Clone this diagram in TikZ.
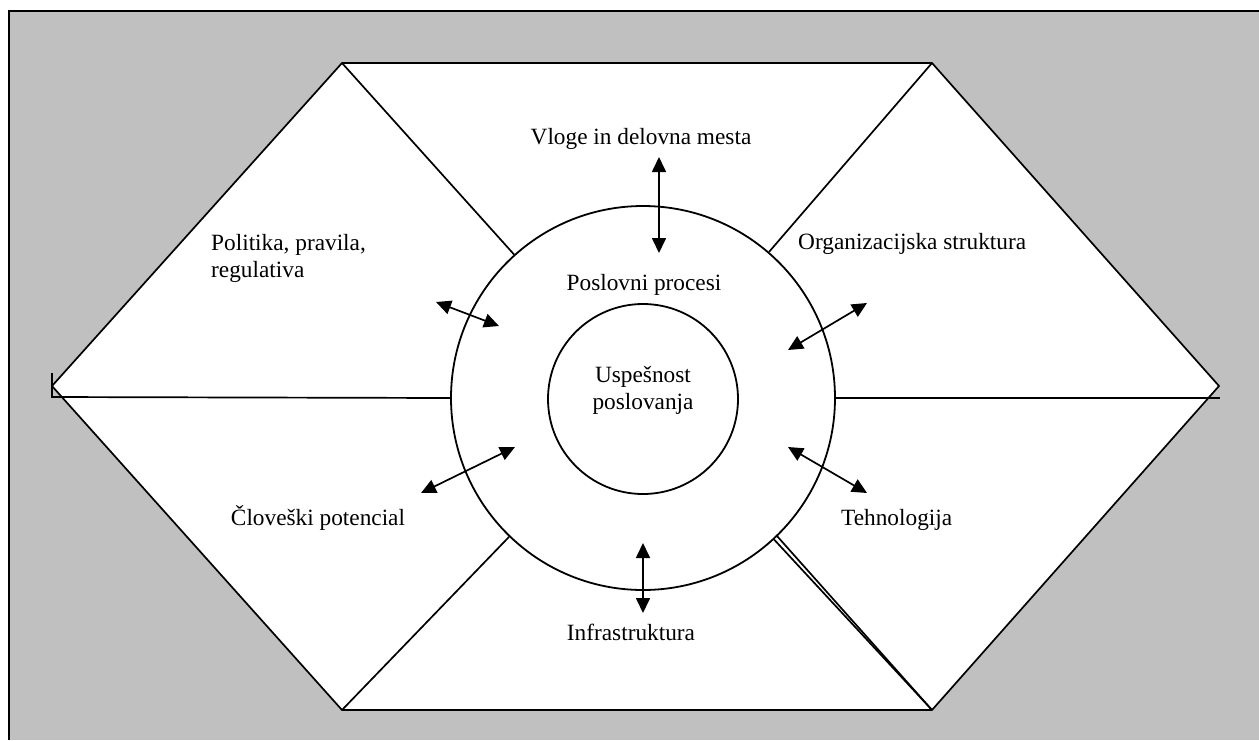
\documentclass[tikz,border=0pt]{standalone}
\usepackage{fontspec}
\setmainfont{Liberation Serif}
\usetikzlibrary{arrows.meta}
\definecolor{bggray}{RGB}{192,192,192}
\begin{document}
\begin{tikzpicture}[x=1pt,y=-1pt,
  edge/.style={line width=1.7pt, line join=miter},
  dbl/.style={{Triangle[length=15pt,width=14pt]}-{Triangle[length=15pt,width=14pt]}, line width=1.7pt},
  lbl/.style={font=\fontsize{23.3}{27}\selectfont, inner sep=0pt},
  ring/.style={circle, draw, line width=1.8pt, inner sep=0pt, fill=white}]
\useasboundingbox (0,0) rectangle (1259,740);
% background
\fill[white] (0,0) rectangle (1259,740);
\fill[bggray] (9,11) rectangle (1259,740);
\draw[line width=2pt] (9,740) -- (9,11) -- (1259,11);
% hexagon
\coordinate (tl) at (342,63);
\coordinate (tr) at (932,63);
\coordinate (rv) at (1219,386);
\coordinate (br) at (932,710);
\coordinate (bl) at (342,710);
\coordinate (lv) at (52,386);
\filldraw[edge, fill=white] (tl) -- (tr) -- (rv) -- (br) -- (bl) -- (lv) -- cycle;
% circles
\node[ring, minimum size=384pt] (outer) at (643,398) {};
\node[ring, minimum size=190pt] (inner) at (643,399) {};
% spokes
\coordinate (lh) at (52,397);
\coordinate (lt) at (52,373);
\coordinate (rh) at (1220,398);
\coordinate (brb) at (777,536);
\draw[edge] (tl) -- (outer);
\draw[edge] (tr) -- (outer);
\draw[edge] (bl) -- (outer);
\draw[edge] (br) -- (outer);
\draw[edge] (br) -- (brb);
\draw[edge] (lt) -- (lh) -- (outer.west);
\draw[edge] (outer.east) -- (rh);
% labels
\node[lbl] (vloge) at (641,139) {Vloge in delovna mesta};
\node[lbl, align=left, anchor=west] (pol) at (211,258) {Politika, pravila,\\regulativa};
\node[lbl, anchor=west] (org) at (798,244) {Organizacijska struktura};
\node[lbl] (posl) at (644,285) {Poslovni procesi};
\node[lbl, align=center] (usp) at (643,390) {Uspešnost\\poslovanja};
\node[lbl] (clov) at (318,518) {Človeški potencial};
\node[lbl, anchor=west] (teh) at (841,520) {Tehnologija};
\node[lbl] (inf) at (631,632) {Infrastruktura};
% arrows
\coordinate (a1s) at (659,157);
\coordinate (a1e) at (659,253);
\coordinate (a2s) at (436,302);
\coordinate (a2e) at (499,326);
\coordinate (a3s) at (867,303);
\coordinate (a3e) at (788,350);
\coordinate (a4s) at (788,447);
\coordinate (a4e) at (867,493);
\coordinate (a5s) at (421,493);
\coordinate (a5e) at (515,447);
\coordinate (a6s) at (643,543);
\coordinate (a6e) at (643,613);
\draw[dbl] (a1s) -- (a1e);
\draw[dbl] (a2s) -- (a2e);
\draw[dbl] (a3s) -- (a3e);
\draw[dbl] (a4s) -- (a4e);
\draw[dbl] (a5s) -- (a5e);
\draw[dbl] (a6s) -- (a6e);
\end{tikzpicture}
\end{document}
